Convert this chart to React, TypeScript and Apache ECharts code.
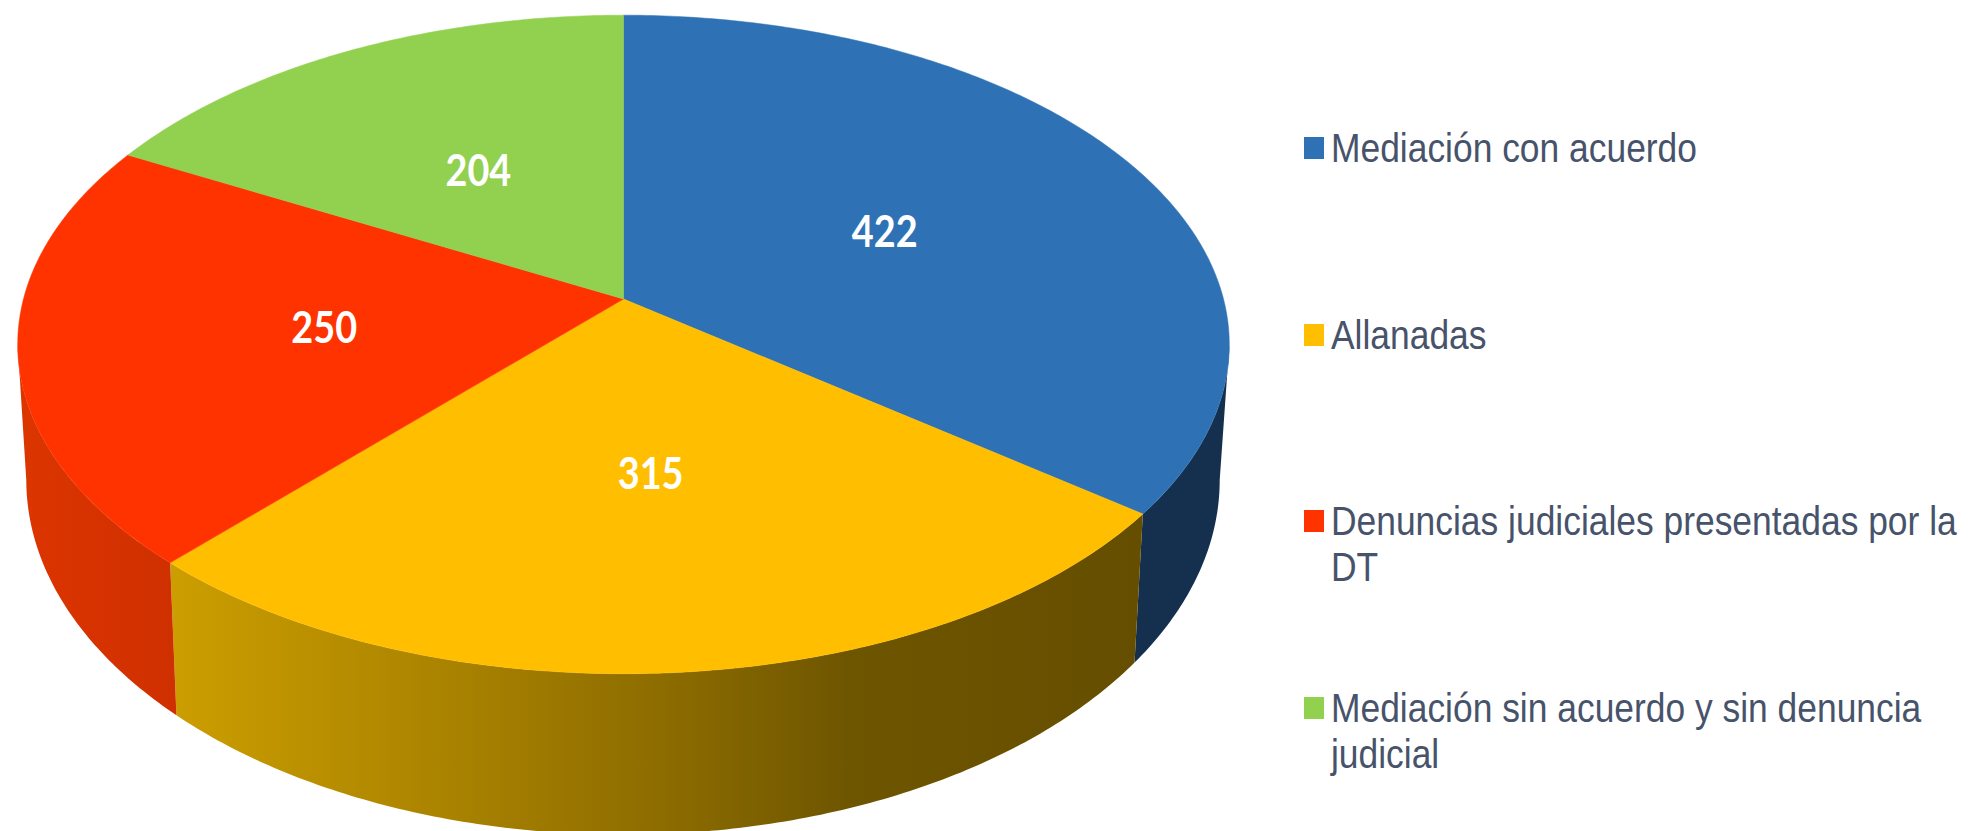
import React, { useEffect, useRef } from "react";
import * as echarts from "echarts";

const categories = [
  "Mediación con acuerdo",
  "Allanadas",
  "Denuncias judiciales presentadas por la\nDT",
  "Mediación sin acuerdo y sin denuncia\njudicial",
];
const values = [422, 315, 250, 204];
const topColors = ["#2E72B5", "#FFBF00", "#FF3300", "#92D050"];
const legendMarkerTops = [137, 324, 510, 697];

const total = values.reduce((a, b) => a + b, 0);
const TOP = { cx: 623.5, y0: 299, b: 323, A: 600, k: 0.138 };
const LOW = { cx: 623, y0: 431, b: 348, A: 591, k: 0.138 };
// Visible part of the rim: between the two silhouette tangents.
const VIS0 = Math.acos(-TOP.k);
const VIS1 = 2 * Math.PI - VIS0;

function project(p: typeof TOP, angle: number, r = 1): number[] {
  const u = r * Math.sin(angle);
  const v = -r * Math.cos(angle);
  const w = 1 - p.k * v;
  return [p.cx + (p.A * u) / w, p.y0 + (p.b * v) / w];
}
function bounds(i: number): number[] {
  const before = values.slice(0, i).reduce((a, b) => a + b, 0);
  return [(before / total) * 2 * Math.PI, ((before + values[i]) / total) * 2 * Math.PI];
}
function arc(p: typeof TOP, a0: number, a1: number): number[][] {
  const n = Math.max(8, Math.ceil((a1 - a0) * 90));
  const pts: number[][] = [];
  for (let j = 0; j <= n; j++) pts.push(project(p, a0 + ((a1 - a0) * j) / n));
  return pts;
}

function sideFill(i: number): any {
  if (i === 1) {
    return new echarts.graphic.LinearGradient(0, 0, 1, 0, [
      { offset: 0, color: "#CC9E00" },
      { offset: 0.25, color: "#AE8600" },
      { offset: 0.5, color: "#8E6D00" },
      { offset: 0.7, color: "#6E5500" },
      { offset: 1, color: "#654E00" },
    ]);
  }
  if (i === 2) {
    return new echarts.graphic.LinearGradient(0, 0, 1, 0, [
      { offset: 0, color: "#DC3500" },
      { offset: 1, color: "#CF3000" },
    ]);
  }
  if (i === 0) return "#15304F";
  return "#6A9A38";
}

export default function App() {
  const ref = useRef<HTMLDivElement>(null);
  useEffect(() => {
    const chart = echarts.init(ref.current!, undefined, { renderer: "svg" });
    const seriesData = categories.map((name, i) => ({ name, value: values[i] }));
    chart.setOption({
      animation: false,
      backgroundColor: "#FFFFFF",
      series: [
        {
          type: "custom",
          name: "Lateral",
          coordinateSystem: "none",
          silent: true,
          z: 1,
          data: seriesData,
          renderItem: (params: any) => {
            const i = params.dataIndex;
            const [s0, s1] = bounds(i);
            const a0 = Math.max(s0, VIS0);
            const a1 = Math.min(s1, VIS1);
            if (a1 <= a0) return null;
            const pts = arc(TOP, a0, a1).concat(arc(LOW, a0, a1).reverse());
            return {
              type: "polygon",
              shape: { points: pts },
              style: { fill: sideFill(i) },
            };
          },
        },
        {
          type: "custom",
          name: "Sectores",
          coordinateSystem: "none",
          silent: true,
          z: 2,
          data: seriesData,
          renderItem: (params: any) => {
            const i = params.dataIndex;
            const [a0, a1] = bounds(i);
            const pts = [[TOP.cx, TOP.y0]].concat(arc(TOP, a0, a1));
            return {
              type: "polygon",
              shape: { points: pts },
              style: { fill: topColors[i], stroke: topColors[i], lineWidth: 0.5 },
            };
          },
        },
        {
          type: "custom",
          name: "Etiquetas",
          coordinateSystem: "none",
          silent: true,
          z: 3,
          data: seriesData,
          renderItem: (params: any) => {
            const i = params.dataIndex;
            const [a0, a1] = bounds(i);
            const [x, y] = project(TOP, (a0 + a1) / 2, 0.5);
            return {
              type: "text",
              x,
              y: y + 1,
              scaleX: 0.86,
              style: {
                text: String(values[i]),
                fill: "#FFFFFF",
                fontFamily: "Lato",
                fontWeight: "bold",
                fontSize: 44,
                textAlign: "center",
                textVerticalAlign: "middle",
              },
            };
          },
        },
      ],
      graphic: categories.flatMap((name, i) => [
        {
          type: "rect",
          shape: { x: 1304, y: legendMarkerTops[i], width: 20, height: 22 },
          style: { fill: topColors[i] },
        },
        {
          type: "text",
          x: 1331,
          y: legendMarkerTops[i] - 12,
          scaleX: 0.885,
          style: {
            text: name,
            fill: "#47536A",
            fontFamily: "Liberation Sans",
            fontSize: 40,
            lineHeight: 46,
            textAlign: "left",
            textVerticalAlign: "top",
          },
        },
      ]),
    });
    return () => chart.dispose();
  }, []);
  return (
    <div
      ref={ref}
      style={{ position: "absolute", left: 0, top: 0, width: 1976, height: 831 }}
    />
  );
}
